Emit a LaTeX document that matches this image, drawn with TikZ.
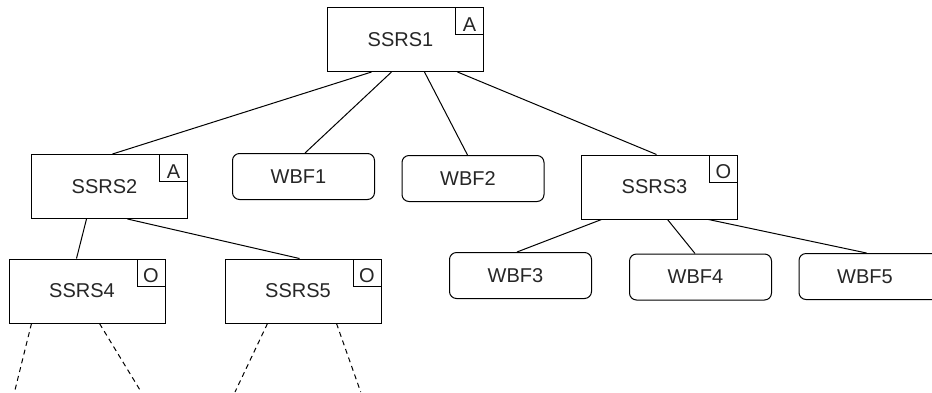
\documentclass[tikz,border=0pt]{standalone}
\usepackage{fontspec}
\setmainfont{Liberation Sans}
\begin{document}
\begin{tikzpicture}[x=1pt,y=-1pt,
  every node/.style={font=\fontsize{20}{24}\selectfont, text=black!85},
  ssrs/.style={draw, line width=1pt, minimum width=156pt, minimum height=64pt, inner sep=0pt},
  wbf/.style={draw, line width=1pt, rounded corners=7pt, minimum width=142pt, minimum height=46pt, inner sep=0pt},
  flag/.style={draw, line width=1pt, anchor=north east, minimum width=28pt, minimum height=27pt, inner sep=0pt, text height=20pt, text depth=0pt, font=\fontsize{20}{24}\selectfont},
  conn/.style={line width=1pt},
  dconn/.style={line width=1pt, dash pattern=on 5pt off 4pt}]
\clip (0,0) rectangle (932,392);
\fill[white] (0,0) rectangle (932,392);
% SSRS boxes
\node[ssrs, label={[xshift=-5pt]center:SSRS1}] (s1) at (405.5,39.5) {};
\node[ssrs, label={[xshift=-5pt]center:SSRS2}] (s2) at (109.5,186.5) {};
\node[ssrs, label={[xshift=-5pt]center:SSRS3}] (s3) at (659.5,187) {};
\node[ssrs, label={[xshift=-5pt]center:SSRS4}] (s4) at (87,291) {};
\node[ssrs, label={[xshift=-5pt]center:SSRS5}] (s5) at (303,291) {};
% flags
\node[flag] (f1) at (s1.north east) {A};
\node[flag] (f2) at (s2.north east) {A};
\node[flag] (f3) at (s3.north east) {O};
\node[flag] (f4) at (s4.north east) {O};
\node[flag] (f5) at (s5.north east) {O};
% WBF boxes
\node[wbf, label={[xshift=-5pt]center:WBF1}] (w1) at (303.5,176.5) {};
\node[wbf, label={[xshift=-5pt]center:WBF2}] (w2) at (473,178.5) {};
\node[wbf, label={[xshift=-5pt]center:WBF3}] (w3) at (520.5,275.5) {};
\node[wbf, label={[xshift=-5pt]center:WBF4}] (w4) at (700.5,277) {};
\node[wbf, label={[xshift=-5pt]center:WBF5}] (w5) at (870,276.5) {};
% connectors
\draw[conn] ([xshift=44.5pt]s1.south west) -- ([xshift=81.5pt]s2.north west);
\draw[conn] ([xshift=64.5pt]s1.south west) -- ([xshift=73pt]w1.north west);
\draw[conn] ([xshift=97.5pt]s1.south west) -- ([xshift=66pt]w2.north west);
\draw[conn] ([xshift=130.5pt]s1.south west) -- ([xshift=75.5pt]s3.north west);
\draw[conn] ([xshift=55.5pt]s2.south west) -- ([xshift=68pt]s4.north west);
\draw[conn] ([xshift=96.5pt]s2.south west) -- ([xshift=75pt]s5.north west);
\draw[conn] ([xshift=20.5pt]s3.south west) -- ([xshift=68pt]w3.north west);
\draw[conn] ([xshift=86.5pt]s3.south west) -- ([xshift=66pt]w4.north west);
\draw[conn] ([xshift=127.5pt]s3.south west) -- ([xshift=68pt]w5.north west);
% dashed free ends
\coordinate (e1) at (14.5,392);
\coordinate (e2) at (141.2,392);
\coordinate (e3) at (235,392);
\coordinate (e4) at (360.7,392);
\draw[dconn] ([xshift=23pt]s4.south west) -- (e1);
\draw[dconn] ([xshift=91pt]s4.south west) -- (e2);
\draw[dconn] ([xshift=43pt]s5.south west) -- (e3);
\draw[dconn] ([xshift=112pt]s5.south west) -- (e4);
\end{tikzpicture}
\end{document}
